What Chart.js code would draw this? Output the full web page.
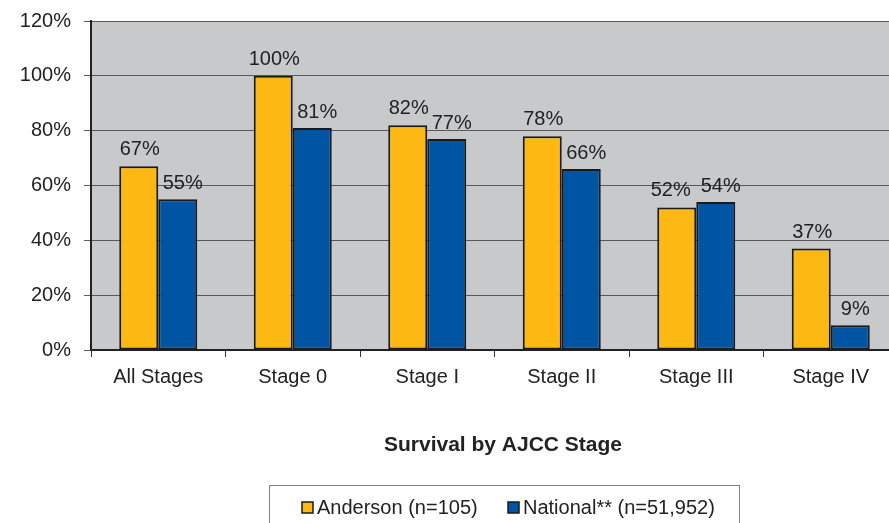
<!DOCTYPE html>
<html>
<head>
<meta charset="utf-8">
<script src="https://cdn.jsdelivr.net/npm/chart.js@4/dist/chart.umd.min.js"></script>
<style>
html,body{margin:0;padding:0;background:#fff;overflow:hidden;width:889px;height:523px;}
#wrap{position:absolute;left:0;top:0;width:898px;height:523px;}
</style>
</head>
<body>
<div id="wrap"><canvas id="c"></canvas></div>
<script>
const categories = ["All Stages", "Stage 0", "Stage I", "Stage II", "Stage III", "Stage IV"];
const andersonValues = [67, 100, 82, 78, 52, 37];
const nationalValues = [55, 81, 77, 66, 54, 9];
const seriesLabels = ["Anderson (n=105)", "National** (n=51,952)"];
const yTicks = [0, 20, 40, 60, 80, 100, 120];
const axisTitle = "Survival by AJCC Stage";

const FONT = "'Liberation Sans', Arial, sans-serif";
const TEXT = "#222222";

const bgPlugin = {
  id: 'bg',
  beforeDraw(chart) {
    const a = chart.chartArea, ctx = chart.ctx;
    ctx.save();
    ctx.fillStyle = '#c8c9cb';
    ctx.fillRect(a.left, a.top, a.right - a.left, a.bottom - a.top);
    ctx.restore();
  }
};

const labelPlugin = {
  id: 'vals',
  afterDatasetsDraw(chart) {
    const ctx = chart.ctx;
    ctx.save();
    ctx.font = "20px " + FONT;
    ctx.fillStyle = TEXT;
    ctx.textAlign = 'center';
    ctx.textBaseline = 'alphabetic';
    const m0 = chart.getDatasetMeta(0).data, m1 = chart.getDatasetMeta(1).data;
    categories.forEach((c, j) => {
      const a = m0[j], b = m1[j];
      // nudge labels apart horizontally, more when they sit at nearly the same height
      const close = Math.abs(a.y - b.y) < 8;
      ctx.fillText(chart.data.datasets[0].data[j] + '%', a.x + (close ? -6 : 1), a.y - 11);
      ctx.fillText(chart.data.datasets[1].data[j] + '%', b.x + 5, b.y - 10);
    });
    ctx.restore();
  }
};

const extrasPlugin = {
  id: 'extras',
  afterDraw(chart) {
    const ctx = chart.ctx;
    ctx.save();
    ctx.font = "bold 21px " + FONT;
    ctx.fillStyle = TEXT;
    ctx.textAlign = 'center';
    ctx.textBaseline = 'middle';
    ctx.fillText(axisTitle, 503, 445);
    ctx.strokeStyle = '#808080';
    ctx.lineWidth = 1;
    ctx.strokeRect(269.5, 485.5, 470, 60);
    ctx.font = "20px " + FONT;
    ctx.textAlign = 'left';
    const xs = [302, 508];
    chart.data.datasets.forEach((ds, i) => {
      const x = xs[i];
      ctx.fillStyle = ds.backgroundColor;
      ctx.fillRect(x, 502, 11, 11);
      ctx.strokeStyle = '#1a1a1a';
      ctx.lineWidth = 1.5;
      ctx.strokeRect(x, 502, 11, 11);
      ctx.fillStyle = TEXT;
      ctx.fillText(ds.label, x + 15, 508);
    });
    ctx.restore();
  }
};

new Chart(document.getElementById('c'), {
  type: 'bar',
  data: {
    labels: categories,
    datasets: [
      { label: seriesLabels[0], data: andersonValues, backgroundColor: '#fdb813', borderColor: '#1a1a1a', borderWidth: 2, borderSkipped: false },
      { label: seriesLabels[1], data: nationalValues, backgroundColor: '#0054a4', borderColor: '#1a1a1a', borderWidth: 2, borderSkipped: false }
    ]
  },
  options: {
    responsive: true,
    maintainAspectRatio: false,
    animation: false,
    layout: { padding: { left: 0, right: 0, top: 21, bottom: 0 } },
    datasets: { bar: { barPercentage: 1.0, categoryPercentage: 0.58 } },
    plugins: { legend: { display: false }, tooltip: { enabled: false }, title: { display: false } },
    scales: {
      x: {
        grid: { drawOnChartArea: false, drawTicks: true, tickLength: 7, color: '#333', offset: true },
        border: { color: '#222', width: 2 },
        ticks: { font: { family: FONT, size: 20 }, color: TEXT, padding: 8, maxRotation: 0 },
        afterFit(scale) { scale.height = 173; }
      },
      y: {
        min: 0, max: 120,
        afterBuildTicks(scale) { scale.ticks = yTicks.map(v => ({ value: v })); },
        grid: { color: '#5a5a5a', lineWidth: 1, tickLength: 7, drawTicks: true },
        border: { color: '#222', width: 2 },
        ticks: { font: { family: FONT, size: 20 }, color: TEXT, padding: 13, callback: v => v + '%' },
        afterFit(scale) { scale.width = 91; scale.paddingTop = 12; scale.paddingBottom = 12; }
      }
    }
  },
  plugins: [bgPlugin, labelPlugin, extrasPlugin]
});
</script>
</body>
</html>
